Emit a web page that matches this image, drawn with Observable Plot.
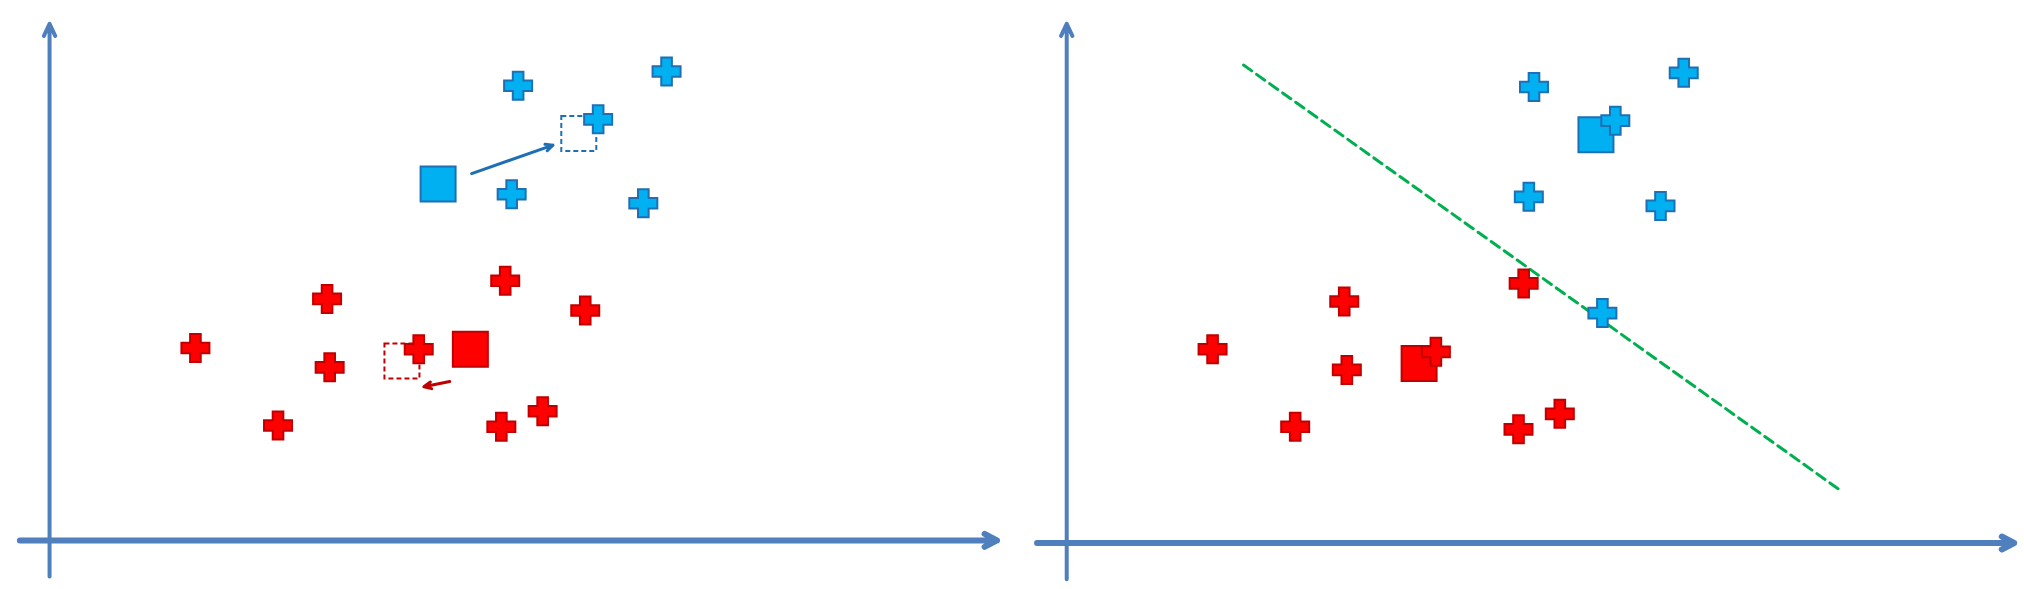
<!DOCTYPE html>
<html><head><meta charset="utf-8">
<script src="https://cdn.jsdelivr.net/npm/d3@7"></script>
<script src="https://cdn.jsdelivr.net/npm/@observablehq/plot@0.6"></script>
<style>body{margin:0;background:#fff}</style>
</head><body><div id="c"></div>
<script>
// Values, in reference units (1568 x 456 image space)
const blueCrosses = [[401,66],[516,55],[463,92],[396,150],[498,157],
  [1188,67],[1304,56],[1251,93],[1184,152],[1286,159],[1241,242]];
const redCrosses = [[253,231],[391,217],[453,240],[151,269],[255,284],[324,270],[215,329],[388,330],[420,318],
  [1041,233],[1180,219],[939,270],[1043,286],[1112,272],[1003,330],[1176,332],[1208,320]];
const blueSquares = [[339,142],[1236,104]];
const redSquares = [[364,270],[1099,281]];
const dashedBlue = [[448,103]];
const dashedRed = [[311,279]];
const moveArrows = [{x1:365,y1:134,x2:428,y2:112,c:"#1f6fb4"},{x1:348,y1:295,x2:328,y2:299,c:"#c00000"}];
const axesY = [{x1:38,y1:446,x2:38,y2:18},{x1:826,y1:448,x2:826,y2:18}];
const axesX = [{x1:15,y1:418,x2:772,y2:418},{x1:803,y1:420,x2:1560,y2:420}];
const boundary = [[963,50],[1425,379]];

const plusSym = {draw(ctx, size){const r=Math.sqrt(size/Math.PI), t=r*0.38;
  ctx.moveTo(-t,-r);ctx.lineTo(t,-r);ctx.lineTo(t,-t);ctx.lineTo(r,-t);ctx.lineTo(r,t);ctx.lineTo(t,t);
  ctx.lineTo(t,r);ctx.lineTo(-t,r);ctx.lineTo(-t,t);ctx.lineTo(-r,t);ctx.lineTo(-r,-t);ctx.lineTo(-t,-t);ctx.closePath();}};
const sqSym = {draw(ctx,size){const r=Math.sqrt(size/Math.PI);ctx.rect(-r,-r,2*r,2*r);}};
const P = a=>a.map(([x,y])=>({x,y}));
const axC="#4f7fbd";
const chart = Plot.plot({
  width:2024,height:589,margin:0,
  x:{domain:[0,1568],range:[0,2024],axis:null},
  y:{domain:[0,456],range:[0,589],axis:null},
  marks:[
    Plot.arrow(axesY,{x1:"x1",y1:"y1",x2:"x2",y2:"y2",stroke:axC,strokeWidth:4,headLength:5,headAngle:50,bend:0}),
    Plot.arrow(axesX,{x1:"x1",y1:"y1",x2:"x2",y2:"y2",stroke:axC,strokeWidth:6,headLength:3.5,headAngle:55,bend:0}),
    Plot.line(P(boundary),{x:"x",y:"y",stroke:"#00b050",strokeWidth:3,strokeDasharray:"10,6"}),
    Plot.dot(P(dashedBlue),{x:"x",y:"y",symbol:sqSym,r:17.5,fill:"white",stroke:"#1f6fb4",strokeWidth:2,strokeDasharray:"5,3"}),
    Plot.dot(P(dashedRed),{x:"x",y:"y",symbol:sqSym,r:17.5,fill:"white",stroke:"#c00000",strokeWidth:2,strokeDasharray:"5,3"}),
    Plot.dot(P(blueSquares),{x:"x",y:"y",symbol:sqSym,r:17.5,fill:"#00b0f0",stroke:"#1f6fb4",strokeWidth:2}),
    Plot.dot(P(redSquares),{x:"x",y:"y",symbol:sqSym,r:17.5,fill:"#ff0000",stroke:"#c00000",strokeWidth:2}),
    Plot.dot(P(blueCrosses),{x:"x",y:"y",symbol:plusSym,r:14,fill:"#00b0f0",stroke:"#1f6fb4",strokeWidth:2}),
    Plot.dot(P(redCrosses),{x:"x",y:"y",symbol:plusSym,r:14,fill:"#ff0000",stroke:"#c00000",strokeWidth:2}),
    Plot.arrow(moveArrows,{x1:"x1",y1:"y1",x2:"x2",y2:"y2",stroke:"c",strokeWidth:3,headLength:4,headAngle:50,bend:0})
  ]
});
document.getElementById("c").append(chart);
</script></body></html>
